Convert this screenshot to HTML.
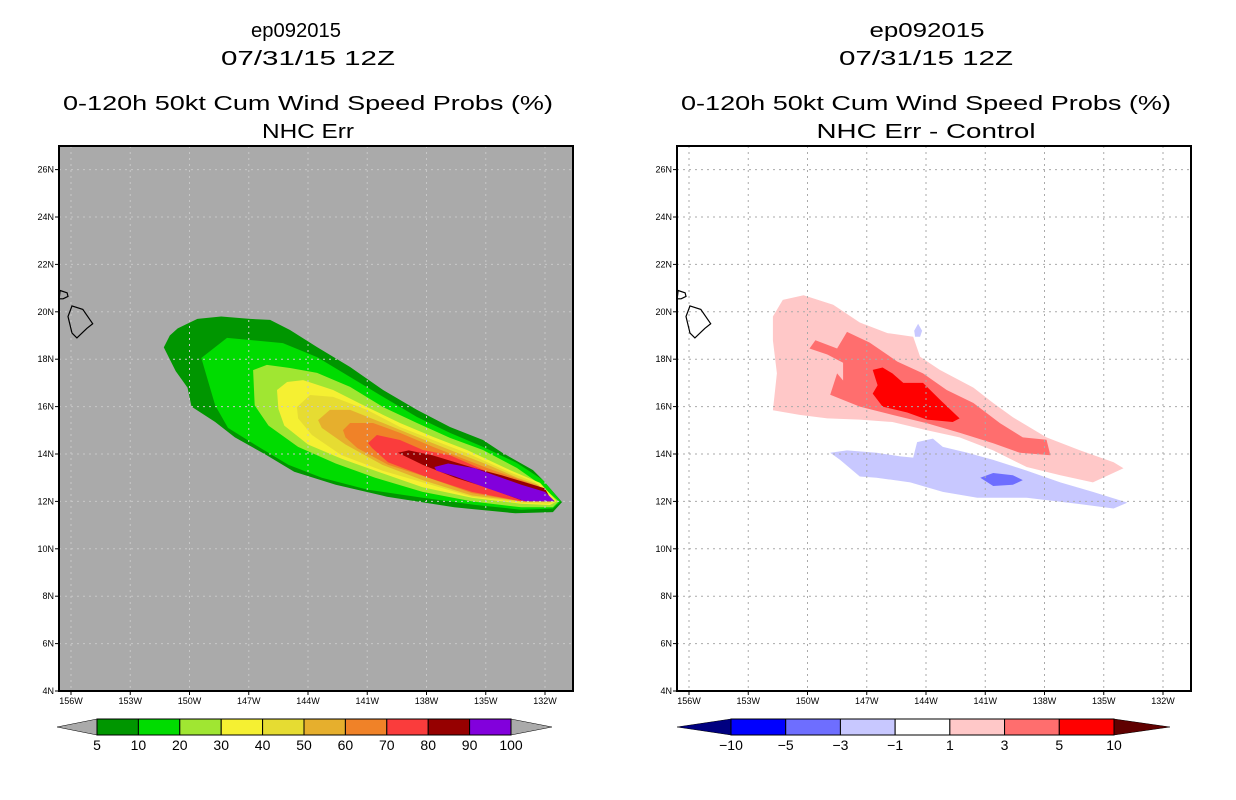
<!DOCTYPE html>
<html><head><meta charset="utf-8"><style>
html,body{margin:0;padding:0;background:#fff;}
svg{display:block;font-family:"Liberation Sans",sans-serif;}
</style></head><body>
<svg id="fig" width="1236" height="800" viewBox="0 0 1236 800" xmlns="http://www.w3.org/2000/svg"></svg>
<script>
// ---- data ----
const latTicks = [4,6,8,10,12,14,16,18,20,22,24,26];
const lonTicks = [156,153,150,147,144,141,138,135,132];
const probLevels = ["5","10","20","30","40","50","60","70","80","90","100"];
const probColors = ["#009600","#00dc00","#a0e632","#f5f032","#e6dc32","#e6af2d","#f08228","#fa3c3c","#960000","#8200dc"];
const diffLevels = ["-10","-5","-3","-1","1","3","5","10"];
const diffColors = ["#0000ff","#6e6eff","#c8c8ff","#ffffff","#ffc8c8","#ff6e6e","#ff0000"];
// contour polygons [lonW, latN]
const p5 = [[151.3,18.5],[151.0,19.0],[150.6,19.3],[149.6,19.7],[148.4,19.8],[146.94,19.70],[145.92,19.66],[144.91,19.23],[143.54,18.51],[141.87,17.67],[140.20,16.70],[138.48,15.86],[136.81,15.14],[135.14,14.59],[134.13,14.04],[132.61,13.32],[132.10,12.90],[131.14,11.97],[131.6,11.55],[133.5,11.5],[136.6,11.75],[140.0,12.2],[142.6,12.7],[144.7,13.25],[146.2,14.0],[147.7,14.7],[148.7,15.35],[149.9,16.0],[150.1,16.8],[150.7,17.5]];
const p10 = [[149.4,18.05],[148.1,18.9],[146.94,18.81],[145.27,18.68],[143.54,18.09],[141.87,17.25],[140.20,16.41],[138.48,15.56],[136.81,14.89],[135.14,14.30],[133.42,13.62],[132.10,12.90],[131.2,12.0],[131.6,11.7],[133.2,11.65],[135.5,11.85],[138.2,12.15],[141.0,12.5],[143.3,13.0],[145.0,13.55],[146.7,14.4],[148.05,15.1],[148.7,16.05]];
const p20 = [[146.78,17.54],[146.08,17.76],[144.91,17.63],[143.54,17.42],[141.87,16.83],[140.20,15.98],[138.48,15.31],[136.81,14.68],[135.14,14.17],[133.42,13.41],[132.41,12.82],[131.3,12.0],[131.6,11.75],[133.2,11.75],[135.7,12.0],[138.2,12.4],[140.6,13.0],[142.6,13.6],[144.5,14.3],[146.0,15.2],[146.7,16.05]];
const p30 = [[145.57,16.70],[145.06,17.04],[144.25,17.12],[142.73,16.70],[141.01,15.98],[139.34,15.31],[137.67,14.72],[135.95,14.17],[133.77,13.32],[132.25,12.78],[131.4,12.0],[131.75,11.85],[133.2,11.9],[135.7,12.15],[138.2,12.6],[140.45,13.25],[142.3,13.8],[144.0,14.4],[145.2,15.2],[145.5,15.9]];
const p40 = [[144.56,15.98],[143.90,16.49],[142.73,16.41],[141.01,15.86],[139.34,15.14],[137.67,14.59],[135.95,14.04],[133.7,13.2],[132.5,12.8],[131.5,12.0],[131.85,11.9],[133.2,11.95],[135.7,12.2],[138.2,12.8],[140.25,13.3],[142.3,13.95],[143.8,14.8],[144.5,15.5]];
const p50 = [[143.49,15.43],[142.89,15.86],[141.87,15.86],[140.20,15.31],[138.48,14.72],[136.81,14.17],[134.9,13.55],[133.4,13.0],[132.35,12.7],[131.6,12.0],[133.2,12.0],[135.7,12.25],[138.2,12.9],[140.25,13.55],[142.1,14.4],[143.3,15.1]];
const p60 = [[142.23,15.01],[141.87,15.31],[140.71,15.31],[139.34,14.89],[137.67,14.30],[134.9,13.4],[133.2,12.9],[132.2,12.6],[131.65,12.0],[133.2,12.0],[135.7,12.35],[137.9,13.0],[139.95,13.55],[141.5,14.25],[142.1,14.7]];
const p70 = [[140.96,14.46],[140.51,14.80],[139.34,14.59],[138.18,14.17],[136.81,13.95],[134.9,13.25],[133.2,12.8],[132.2,12.55],[131.65,12.0],[133.2,12.0],[135.7,12.4],[137.9,13.0],[139.95,13.65],[140.75,14.25]];
const p80 = [[139.45,14.05],[138.9,14.15],[137.7,13.95],[135.55,13.4],[134.2,13.1],[133.0,12.8],[132.0,12.55],[131.65,12.0],[133.2,12.05],[135.0,12.6],[136.55,13.0],[138.2,13.55]];
const p90 = [[137.6,13.45],[136.9,13.6],[135.55,13.4],[134.2,13.0],[133.2,12.7],[132.0,12.4],[131.5,12.0],[133.0,12.0],[134.9,12.55],[136.55,13.05],[137.5,13.3]];
const dPos1 = [[151.25,20.5],[150.2,20.7],[148.7,20.3],[147.35,19.55],[145.95,19.1],[144.65,18.95],[144.3,18.1],[143.3,17.55],[141.6,16.8],[140.6,16.15],[139.6,15.55],[137.9,14.7],[136.2,14.15],[134.5,13.65],[134.0,13.4],[135.55,12.8],[137.2,13.1],[138.9,13.45],[140.6,14.15],[142.3,14.7],[143.95,15.0],[145.7,15.35],[147.35,15.45],[149.0,15.5],[150.4,15.65],[151.75,15.85],[151.55,17.4],[151.75,18.8],[151.75,19.8]];
const dPos3 = [[149.9,18.45],[149.6,18.8],[148.5,18.45],[148.0,19.15],[146.85,18.7],[145.45,17.9],[144.15,17.4],[142.95,16.7],[141.6,16.15],[140.25,15.3],[139.1,14.7],[137.9,14.6],[137.7,13.95],[139.25,14.05],[140.6,14.45],[142.3,14.9],[143.95,15.3],[145.7,15.65],[147.35,16.0],[148.85,16.5],[148.5,17.4],[148.2,17.1],[148.2,17.85],[149.0,18.2]];
const dPos5 = [[146.7,17.55],[146.2,17.65],[145.7,17.4],[145.15,17.0],[144.15,17.0],[143.3,16.3],[142.3,15.5],[142.65,15.35],[143.95,15.45],[144.95,15.75],[146.2,16.0],[146.7,16.55],[146.45,16.9]];
const dNeg1 = [[148.85,14.05],[148.0,14.15],[146.5,14.05],[145.3,13.9],[144.65,13.85],[144.45,14.5],[143.65,14.65],[143.15,14.3],[141.9,14.05],[140.6,13.75],[138.9,13.3],[137.2,12.8],[135.55,12.4],[133.8,11.95],[134.5,11.7],[136.35,11.9],[138.9,12.15],[141.4,12.15],[143.15,12.4],[144.8,12.8],[146.5,13.0],[147.35,13.05],[148.35,13.75]];
const dNeg1b = [[144.4,19.5],[144.2,19.2],[144.3,18.95],[144.55,18.95],[144.6,19.2]];
const dNeg3 = [[141.25,13.0],[140.6,13.2],[139.6,13.1],[139.1,12.9],[139.6,12.7],[140.6,12.65]];
const bigIsland = [[155.95,20.25],[155.4,20.1],[154.9,19.5],[155.2,19.3],[155.7,18.9],[155.95,19.1],[156.15,19.8]];
const maui = [[156.55,20.9],[156.2,20.8],[156.15,20.65],[156.4,20.55],[156.6,20.55]];

// ---- drawing ----
const NS="http://www.w3.org/2000/svg";
const svg=document.getElementById('fig');
function el(tag,attrs,parent){const e=document.createElementNS(NS,tag);for(const k in attrs)e.setAttribute(k,attrs[k]);(parent||svg).appendChild(e);return e;}
const PW=514, PT=146, PB=691;
function xScale(x0,lon){return x0+12+(156-lon)*19.75;}
function yScale(lat){return 691-(lat-4)*23.7;}

function panel(x0,bg,gridColor,layers,name,titles){
  const g=el('g',{});
  
  
  const cid='clip'+x0;
  const cp=el('clipPath',{id:cid},g);el('rect',{x:x0,y:PT,width:PW,height:PB-PT},cp);
  const bgr=el('rect',{x:x0,y:PT,width:PW,height:PB-PT,fill:bg},g);
  
  
  const inner=el('g',{'clip-path':'url(#'+cid+')'},g);
  layers.forEach(([poly,col,nm])=>{
    const pts=poly.map(p=>xScale(x0,p[0]).toFixed(1)+','+yScale(p[1]).toFixed(1)).join(' ');
    const pg=el('polygon',{points:pts,fill:col},inner);
    
    
  });
  latTicks.forEach(l=>{if(l>4){el('line',{x1:x0,x2:x0+PW,y1:yScale(l),y2:yScale(l),stroke:gridColor,'stroke-width':1,'stroke-dasharray':'2,4'},inner);}});
  lonTicks.forEach(l=>{el('line',{x1:xScale(x0,l),x2:xScale(x0,l),y1:PT,y2:PB,stroke:gridColor,'stroke-width':1,'stroke-dasharray':'2,4'},inner);});
  [bigIsland,maui].forEach((c,i)=>{
    const pts=c.map(p=>xScale(x0,p[0]).toFixed(1)+','+yScale(p[1]).toFixed(1)).join(' ');
    const cl=el('polygon',{points:pts,fill:'none',stroke:'#000','stroke-width':1.2},inner);
    
    
  });
  el('rect',{x:x0,y:PT,width:PW,height:PB-PT,fill:'none',stroke:'#000','stroke-width':2},g);
  latTicks.forEach(l=>{
    const y=yScale(l);
    el('line',{x1:x0-4,x2:x0,y1:y,y2:y,stroke:'#000','stroke-width':1},g);
    const t=el('text',{x:x0-5,y:y+3,'font-size':9,'text-anchor':'end'},g);t.textContent=l+'N';
    
    
  });
  lonTicks.forEach(l=>{
    const x=xScale(x0,l);
    el('line',{x1:x,x2:x,y1:PB,y2:PB+4,stroke:'#000','stroke-width':1},g);
    const t=el('text',{x:x,y:PB+13,'font-size':9,'text-anchor':'middle'},g);t.textContent=l+'W';
    
    
  });
  titles.forEach(([txt,cx,y,w],i)=>{
    const t=el('text',{x:cx,y:y,'font-size':20,'text-anchor':'middle',textLength:w,lengthAdjust:'spacingAndGlyphs'},g);
    t.textContent=txt;
    
    
  });
}

panel(59,'#aaaaaa','#c8c8c8',[[p5,probColors[0],'contour-5'],[p10,probColors[1],'contour-10'],[p20,probColors[2],'contour-20'],[p30,probColors[3],'contour-30'],[p40,probColors[4],'contour-40'],[p50,probColors[5],'contour-50'],[p60,probColors[6],'contour-60'],[p70,probColors[7],'contour-70'],[p80,probColors[8],'contour-80'],[p90,probColors[9],'contour-90']],'left-panel',
  [['ep092015',296,37,90],['07/31/15 12Z',308,65,174],['0-120h 50kt Cum Wind Speed Probs (%)',308,110,490],['NHC Err',308,138,92]]);
panel(677,'#ffffff','#aaaaaa',[[dPos1,diffColors[4],'diff-1-3'],[dPos3,diffColors[5],'diff-3-5'],[dPos5,diffColors[6],'diff-5-10'],[dNeg1,diffColors[2],'diff-neg1-neg3'],[dNeg1b,diffColors[2],'diff-neg-small'],[dNeg3,diffColors[1],'diff-neg3-neg5']],'right-panel',
  [['ep092015',927,37,115],['07/31/15 12Z',926,65,174],['0-120h 50kt Cum Wind Speed Probs (%)',926,110,490],['NHC Err - Control',926,138,219]]);

function colorbar(xL,xs,xe,xR,cols,labels,triL,triR,name){
  const g=el('g',{});
  
  
  const y0=719,y1=735,ym=727;
  el('polygon',{points:`${xL},${ym} ${xs},${y0} ${xs},${y1}`,fill:triL,stroke:'#000','stroke-width':0.5},g);
  el('polygon',{points:`${xR},${ym} ${xe},${y0} ${xe},${y1}`,fill:triR,stroke:'#000','stroke-width':0.5},g);
  const w=(xe-xs)/cols.length;
  cols.forEach((c,i)=>{
    const r=el('rect',{x:xs+i*w,y:y0,width:w,height:y1-y0,fill:c,stroke:'#000','stroke-width':1},g);
    
    
  });
  labels.forEach((lb,i)=>{
    const t=el('text',{x:xs+i*w,y:750,'font-size':14,'text-anchor':'middle'},g);
    t.textContent=lb.replace('-','\u2212');
    
    
  });
}
colorbar(57,97,511,552,probColors,probLevels,'#aaaaaa','#aaaaaa','prob-colorbar');
colorbar(677,731,1114,1170,diffColors,diffLevels,'#000080','#600000','diff-colorbar');
</script>
</body></html>
